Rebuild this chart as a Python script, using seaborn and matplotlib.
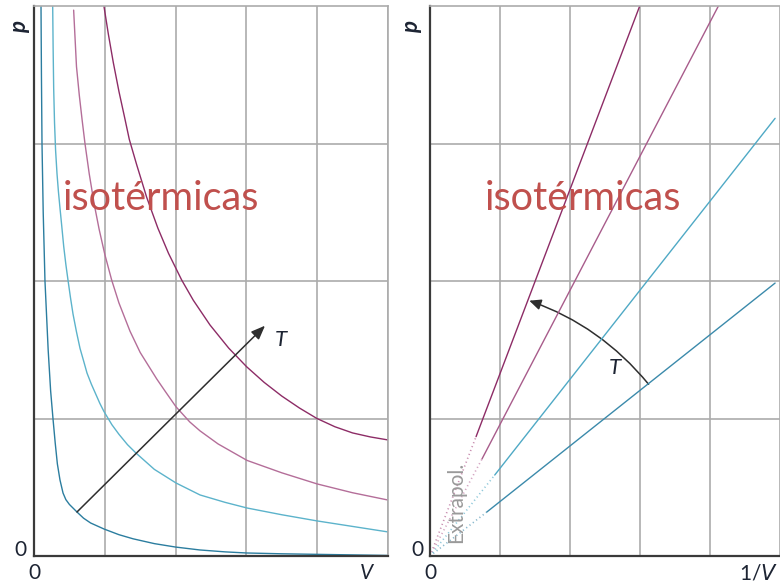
import numpy as np
import pandas as pd
import matplotlib
matplotlib.use("Agg")
import matplotlib.pyplot as plt
import seaborn as sns
from matplotlib.patches import FancyArrowPatch

# ---- isotherms p(V), four temperatures (coldest first) ----
v_t1 = [0.099, 0.105, 0.113, 0.13, 0.155, 0.20, 0.235, 0.268, 0.30, 0.33, 0.367, 0.41, 0.45,
        0.50, 0.607, 0.70, 0.80, 0.99, 1.20, 1.40, 1.70, 2.00, 2.34, 2.70, 3.00, 3.50, 4.00,
        4.50, 5.00]
p_t1 = [4.00, 3.50, 3.00, 2.50, 2.00, 1.50, 1.20, 1.00, 0.82, 0.67, 0.553, 0.458, 0.41,
        0.375, 0.32, 0.275, 0.24, 0.196, 0.155, 0.125, 0.09, 0.065, 0.044, 0.03, 0.022, 0.016,
        0.012, 0.008, 0.004]

v_t2 = [0.264, 0.27, 0.278, 0.29, 0.305, 0.325, 0.345, 0.367, 0.39, 0.42, 0.45, 0.48, 0.515,
        0.551, 0.60, 0.65, 0.70, 0.749, 0.81, 0.87, 0.93, 0.989, 1.10, 1.20, 1.32, 1.44, 1.70,
        2.006, 2.345, 2.70, 3.01, 3.50, 4.00, 4.50, 5.00]
p_t2 = [4.00, 3.70, 3.40, 3.15, 2.95, 2.78, 2.65, 2.53, 2.41, 2.25, 2.12, 2.007, 1.88,
        1.76, 1.63, 1.51, 1.42, 1.33, 1.25, 1.18, 1.11, 1.05, 0.955, 0.885, 0.81, 0.749, 0.63,
        0.531, 0.444, 0.39, 0.349, 0.30, 0.255, 0.215, 0.175]

v_t3 = [0.56, 0.60, 0.64, 0.68, 0.72, 0.78, 0.85, 0.92, 1.00, 1.097, 1.20, 1.356, 1.50,
        1.733, 1.85, 2.006, 2.20, 2.345, 2.60, 3.01, 3.50, 4.00, 4.50, 5.00]
p_t3 = [3.97, 3.56, 3.35, 3.17, 3.00, 2.78, 2.56, 2.376, 2.194, 2.007, 1.84, 1.635, 1.48,
        1.288, 1.20, 1.085, 0.975, 0.91, 0.815, 0.695, 0.605, 0.524, 0.46, 0.407]

v_t4 = [0.989, 1.05, 1.12, 1.20, 1.28, 1.346, 1.45, 1.592, 1.75, 1.90, 2.086, 2.25, 2.486,
        2.75, 3.004, 3.25, 3.50, 3.75, 3.993, 4.25, 4.50, 4.75, 5.00]
p_t4 = [3.995, 3.796, 3.589, 3.378, 3.189, 3.03, 2.846, 2.608, 2.384, 2.201, 2.007, 1.86,
        1.68, 1.512, 1.376, 1.263, 1.163, 1.076, 1.001, 0.94, 0.895, 0.866, 0.844]

# ---- p against 1/V: measured segments (hottest first) ----
inv_v_start = [0.658, 0.742, 0.925, 0.807]
p_start = [0.868, 0.705, 0.589, 0.318]
inv_v_end = [2.996, 4.12, 4.93, 4.93]
p_end = [4.00, 4.00, 3.183, 1.985]

iso_colors = ["#2b7d9f", "#5cb3cb", "#b46e99", "#8d2c66"]
lin_colors = ["#8d2c66", "#a85c8b", "#4fa9c5", "#3b8aab"]
dot_colors = ["#c98fb0", "#d3a3c0", "#8ec8da", "#86b7cc"]

label_color = "#1d2433"
grid_color = "#ababab"
title_color = "#c0504d"

sns.set_theme(style="white")
plt.rcParams["font.family"] = ["Lato", "DejaVu Sans"]

fig = plt.figure(figsize=(7.8, 5.83), dpi=100)
ax1 = fig.add_axes([34 / 780, 27 / 583, 354 / 780, 550 / 583])
ax2 = fig.add_axes([430 / 780, 27 / 583, 350 / 780, 550 / 583])


def style_axes(ax, xmax):
    ax.set_xlim(0, xmax)
    ax.set_ylim(0, 4)
    ax.set_xticks([1, 2, 3, 4, 5])
    ax.set_yticks([1, 2, 3])
    ax.grid(True, color=grid_color, lw=1.2)
    ax.tick_params(length=0, labelbottom=False, labelleft=False)
    for side in ("left", "bottom"):
        ax.spines[side].set_color("#3a3a3a")
        ax.spines[side].set_linewidth(1.6)
    for side in ("top", "right"):
        ax.spines[side].set_color(grid_color)
        ax.spines[side].set_linewidth(1.2)
    ax.set_xlabel("")
    ax.set_ylabel("")


# ---- left panel: isotherms ----
iso = pd.concat([
    pd.DataFrame({"V": v, "p": p, "T": name})
    for v, p, name in zip([v_t1, v_t2, v_t3, v_t4], [p_t1, p_t2, p_t3, p_t4],
                          ["T1", "T2", "T3", "T4"])
])
sns.lineplot(data=iso, x="V", y="p", hue="T", palette=iso_colors, sort=False,
             estimator=None, lw=1.0, legend=False, ax=ax1)
style_axes(ax1, 5)

ax1.annotate("", xy=(3.263, 1.675), xytext=(0.607, 0.32),
             arrowprops=dict(arrowstyle="-|>,head_length=0.7,head_width=0.28",
                             color="#2e2e2e", lw=1.1, shrinkA=0, shrinkB=0))
ax1.text(3.49, 1.57, "T", style="italic", fontsize=16, color=label_color,
         ha="center", va="center")
ax1.text(1.79, 2.6, "isotérmicas", fontsize=28.5, color=title_color,
         ha="center", va="center")

# ---- right panel: p vs 1/V ----
xmax2 = 350 / 71
lines = []
for i in range(4):
    lines.append(pd.DataFrame({"invV": [inv_v_start[i], inv_v_end[i]],
                               "p": [p_start[i], p_end[i]], "T": f"L{i}"}))
lin = pd.concat(lines)
sns.lineplot(data=lin, x="invV", y="p", hue="T", palette=lin_colors, sort=False,
             estimator=None, lw=1.0, legend=False, ax=ax2)
for i in range(4):
    ax2.plot([0, inv_v_start[i]], [0, p_start[i]], color=dot_colors[i], lw=1.2,
             linestyle=(0, (0.7, 1.8)), clip_on=False)
style_axes(ax2, xmax2)
ax2.spines["right"].set_visible(False)

arc = FancyArrowPatch((3.123, 1.249), (1.418, 1.857),
                      connectionstyle="arc3,rad=0.14",
                      arrowstyle="-|>,head_length=7,head_width=3.2",
                      color="#2e2e2e", lw=1.1, shrinkA=0, shrinkB=0)
ax2.add_patch(arc)
ax2.text(2.634, 1.367, "T", style="italic", fontsize=16, color=label_color,
         ha="center", va="center")
ax2.text(2.18, 2.6, "isotérmicas", fontsize=28.5, color=title_color,
         ha="center", va="center")
ax2.text(0.373, 0.39, "Extrapol.", rotation=90, fontsize=15, color="#9a9a9a",
         ha="center", va="center")

# ---- axis annotations ----
for ax, px in ((ax1, -0.042), (ax2, -0.052)):
    ax.text(-0.02, 0.01, "0", transform=ax.transAxes, fontsize=15,
            color=label_color, ha="right", va="center")
    ax.text(0.0, -0.031, "0", transform=ax.transAxes, fontsize=15,
            color=label_color, ha="center", va="center")
    ax.text(px, 0.962, "p", transform=ax.transAxes, fontsize=16,
            style="italic", fontweight="bold", color=label_color,
            rotation=90, ha="center", va="center")
ax1.text(0.939, -0.031, "V", transform=ax1.transAxes, fontsize=15,
         style="italic", color=label_color, ha="center", va="center")
ax2.text(0.94, -0.031, r"1/$\mathit{V}$", transform=ax2.transAxes, fontsize=15,
         color=label_color, ha="center", va="center")

fig.savefig("out.png", dpi=100)
